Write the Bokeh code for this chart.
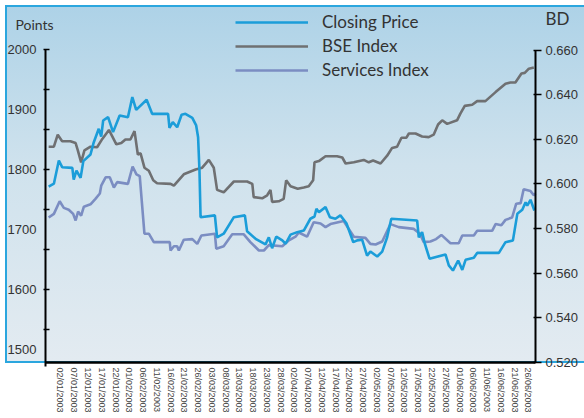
from bokeh.plotting import figure
from bokeh.models import (Range1d, LinearAxis, FixedTicker, NumeralTickFormatter,
                          Legend, LegendItem, Label)
from bokeh.embed import file_html
from bokeh.resources import INLINE

# ---- data -------------------------------------------------------------
date_labels = ["02/01/2003", "07/01/2003", "12/01/2003", "17/01/2003", "22/01/2003",
               "01/02/2003", "06/02/2003", "11/02/2003", "16/02/2003", "21/02/2003",
               "26/02/2003", "03/03/2003", "08/03/2003", "13/03/2003", "18/03/2003",
               "23/03/2003", "28/03/2003", "02/04/2003", "07/04/2003", "12/04/2003",
               "17/04/2003", "22/04/2003", "27/04/2003", "02/05/2003", "07/05/2003",
               "12/05/2003", "17/05/2003", "22/05/2003", "27/05/2003", "01/06/2003",
               "06/06/2003", "11/06/2003", "16/06/2003", "21/06/2003", "26/06/2003"]
label_step = 5  # days between labelled dates

# Closing Price (BD, right axis)
cp_day = [-4.3, -2.4, -0.6, 0.6, 4.3, 4.8, 5.8, 7.3, 8.3, 10.9, 12.1, 13.9, 14.8, 15.5, 17.3,
          19.1, 21.5, 24.5, 26.1, 27.5, 31.3, 33.3, 39.1, 39.6, 40.8, 42.4, 44.0, 45.4, 47.9,
          49.3, 50.0, 50.5, 50.9, 56.1, 56.9, 59.3, 63.0, 67.0, 67.8, 70.9, 74.5, 75.7, 76.9,
          78.4, 80.6, 81.8, 83.6, 86.0, 88.4, 90.8, 92.3, 93.0, 93.9, 96.3, 97.9, 99.9, 101.7,
          103.9, 106.4, 107.8, 109.6, 111.4, 112.6, 115.1, 116.9, 118.7, 120.2, 129.6, 130.2,
          131.4, 132.4, 134.1, 139.9, 141.1, 142.6, 144.5, 146.0, 147.2, 150.2, 151.4, 159.3,
          161.7, 164.4, 166.0, 167.8, 169.0, 169.6, 170.8, 172.2]
cp_val = [0.5988, 0.6001, 0.6105, 0.6075, 0.6072, 0.6019, 0.6060, 0.6027, 0.6102, 0.6132,
          0.6187, 0.6247, 0.6212, 0.6284, 0.6299, 0.6232, 0.6307, 0.6299, 0.6389, 0.6332,
          0.6377, 0.6314, 0.6314, 0.6251, 0.6277, 0.6254, 0.6310, 0.6314, 0.6296, 0.6262,
          0.6209, 0.6060, 0.5851, 0.5859, 0.5761, 0.5777, 0.5851, 0.5859, 0.5788, 0.5754,
          0.5729, 0.5761, 0.5712, 0.5764, 0.5747, 0.5732, 0.5773, 0.5784, 0.5791, 0.5844,
          0.5854, 0.5889, 0.5873, 0.5896, 0.5851, 0.5844, 0.5859, 0.5824, 0.5739, 0.5747,
          0.5750, 0.5679, 0.5697, 0.5675, 0.5697, 0.5761, 0.5844, 0.5836, 0.5761, 0.5784,
          0.5732, 0.5665, 0.5684, 0.5635, 0.5612, 0.5657, 0.5615, 0.5660, 0.5669, 0.5691,
          0.5691, 0.5739, 0.5747, 0.5866, 0.5884, 0.5918, 0.5903, 0.5929, 0.5881]

# BSE Index (points, left axis)
bse_day = [-4.3, -2.4, -1.0, 0.6, 3.6, 5.5, 6.3, 7.5, 8.7, 10.9, 13.3, 15.2, 17.6, 20.3, 22.1,
           23.6, 25.4, 26.9, 28.1, 29.1, 30.5, 32.1, 33.7, 35.1, 40.0, 41.2, 44.8, 49.1, 51.5,
           53.9, 55.7, 56.9, 59.3, 63.0, 67.8, 69.7, 70.2, 73.3, 75.1, 76.3, 76.9, 79.3, 81.1,
           82.0, 83.6, 86.2, 88.4, 90.2, 91.8, 92.3, 93.9, 96.3, 100.5, 102.4, 103.6, 106.6,
           110.2, 112.0, 113.6, 116.3, 118.7, 120.5, 122.3, 123.9, 125.7, 126.6, 129.0, 131.4,
           133.8, 135.6, 137.2, 138.7, 140.5, 144.1, 145.3, 146.9, 149.6, 151.4, 154.4, 158.1,
           161.7, 163.5, 165.3, 167.5, 168.7, 170.2, 172.0]
bse_val = [1838, 1838, 1858, 1847, 1847, 1844, 1832, 1812, 1832, 1838, 1837, 1851, 1866, 1842,
           1844, 1850, 1850, 1864, 1825, 1827, 1803, 1798, 1782, 1777, 1776, 1773, 1792, 1800,
           1803, 1816, 1803, 1766, 1762, 1780, 1780, 1776, 1754, 1752, 1757, 1766, 1746, 1747,
           1751, 1782, 1772, 1768, 1770, 1772, 1782, 1812, 1814, 1822, 1822, 1820, 1810, 1812,
           1816, 1812, 1815, 1810, 1823, 1836, 1838, 1853, 1853, 1860, 1860, 1855, 1854, 1858,
           1875, 1882, 1876, 1882, 1893, 1906, 1908, 1914, 1914, 1929, 1943, 1945, 1945, 1960,
           1961, 1968, 1970]

# Services Index (points, left axis)
svc_day = [-4.3, -2.4, -0.3, 1.2, 3.0, 4.6, 5.5, 6.4, 7.5, 8.5, 10.9, 12.7, 14.3, 14.8, 16.4,
           17.9, 19.4, 20.6, 24.5, 26.2, 27.6, 28.8, 30.5, 32.1, 33.9, 39.7, 40.0, 41.2, 42.4,
           43.0, 44.8, 47.9, 49.7, 51.2, 56.1, 56.6, 59.3, 62.4, 66.6, 69.0, 72.1, 73.9, 75.7,
           80.6, 83.0, 85.4, 86.6, 89.6, 92.0, 94.5, 96.3, 98.1, 102.9, 106.6, 110.8, 112.6,
           114.5, 116.9, 119.9, 122.9, 128.4, 130.6, 132.0, 134.4, 136.5, 138.4, 141.7, 144.7,
           146.0, 150.2, 151.4, 156.9, 158.1, 160.2, 161.7, 164.1, 165.6, 167.2, 168.3, 170.8,
           172.0, 172.6]
svc_val = [1720, 1726, 1747, 1736, 1733, 1726, 1715, 1730, 1723, 1738, 1742, 1751, 1760, 1773,
           1787, 1787, 1770, 1779, 1776, 1805, 1792, 1789, 1693, 1693, 1679, 1679, 1665, 1672,
           1672, 1665, 1683, 1684, 1676, 1690, 1693, 1668, 1672, 1692, 1692, 1679, 1665, 1665,
           1674, 1672, 1682, 1688, 1695, 1688, 1712, 1710, 1704, 1709, 1714, 1688, 1686, 1676,
           1675, 1680, 1709, 1704, 1701, 1693, 1679, 1680, 1684, 1691, 1677, 1677, 1690, 1690,
           1698, 1698, 1709, 1707, 1716, 1720, 1743, 1744, 1767, 1764, 1757, 1760]

points_ticks = [1500, 1600, 1700, 1800, 1900, 2000]
bd_ticks = [0.52, 0.54, 0.56, 0.58, 0.60, 0.62, 0.64, 0.66]

# axis extents (data units)
day_start, day_end = -5.45, 172.6
pts_start, pts_end = 1478.3, 2000
bd_start, bd_end = 0.520, 0.660

# ---- figure -----------------------------------------------------------
TICK_FONT = "Liberation Sans"
TEXT_FONT = "Lato"

W, H = 584, 418
p = figure(width=W, height=H, output_backend="svg", toolbar_location=None,
           x_range=Range1d(-21.80, 190.41), y_range=Range1d(1385.0, 2081.67),
           min_border=0)
p.border_fill_color = None
p.background_fill_color = None
p.outline_line_color = None
p.grid.visible = False
BLUE = "#2ba6de"
p.styles = {
    "background": (
        f"linear-gradient({BLUE},{BLUE}) 5px 5px/100% 2px no-repeat, "
        f"linear-gradient({BLUE},{BLUE}) 5px 5px/2px 358px no-repeat, "
        f"linear-gradient({BLUE},{BLUE}) 5px 361px/100% 2px no-repeat, "
        "linear-gradient(to bottom, #add2e7 0px, #cfe2ed 160px, #e3ebf1 357px) "
        "5px 5px/100% 357px no-repeat"
    )
}

p.extra_y_ranges = {"bd": Range1d(0.494912, 0.682176)}

# left axis (points)
ly = p.yaxis[0]
ly.fixed_location = day_start
ly.bounds = (1472, pts_end)
ly.ticker = FixedTicker(ticks=points_ticks,
                        minor_ticks=[pts_end - k * 200.0 / 3 for k in range(8)])
ly.formatter = NumeralTickFormatter(format="0")
ly.major_tick_line_color = None
ly.major_tick_in = 0
ly.major_tick_out = 0
ly.minor_tick_line_color = "black"
ly.minor_tick_line_width = 1.5
ly.minor_tick_in = 4
ly.minor_tick_out = 2
ly.major_label_standoff = 7
ly.axis_line_color = "black"
ly.axis_line_width = 2
ly.major_label_text_font = TICK_FONT
ly.major_label_text_font_size = "13px"
ly.major_label_text_color = "#333333"

# right axis (BD)
ry = LinearAxis(y_range_name="bd",
                ticker=FixedTicker(ticks=bd_ticks, minor_ticks=[]),
                formatter=NumeralTickFormatter(format="0.000"))
ry.fixed_location = day_end
ry.bounds = (bd_start, bd_end)
ry.major_tick_in = 2
ry.major_tick_out = 6
ry.major_tick_line_width = 1.5
ry.major_tick_line_color = "black"
ry.minor_tick_line_color = None
ry.major_label_standoff = 4
ry.axis_line_color = "black"
ry.axis_line_width = 2
ry.major_label_text_font = TICK_FONT
ry.major_label_text_font_size = "13px"
ry.major_label_text_color = "#333333"
p.add_layout(ry, "right")

# x axis (dates)
xa = p.xaxis[0]
xa.fixed_location = pts_start
xa.bounds = (day_start, day_end)
xticks = [i * label_step for i in range(len(date_labels))]
xa.ticker = FixedTicker(ticks=xticks, minor_ticks=[])
xa.major_label_overrides = {t: lab for t, lab in zip(xticks, date_labels)}
xa.major_label_orientation = "vertical"
xa.major_tick_line_color = None
xa.major_tick_in = 0
xa.major_tick_out = 0
xa.minor_tick_line_color = None
xa.major_label_standoff = 5
xa.axis_line_color = "black"
xa.axis_line_width = 2.5
xa.major_label_text_font = TICK_FONT
xa.major_label_text_font_size = "9px"
xa.major_label_text_color = "#444444"

# ---- series -----------------------------------------------------------
r_bse = p.line(bse_day, bse_val, line_color="#6f7072", line_width=2.6)
r_svc = p.line(svc_day, svc_val, line_color="#7b8dc2", line_width=2.6)
r_cp = p.line(cp_day, cp_val, y_range_name="bd", line_color="#1b9dd9", line_width=2.6)

legend = Legend(items=[LegendItem(label="Closing Price", renderers=[r_cp]),
                       LegendItem(label="BSE Index", renderers=[r_bse]),
                       LegendItem(label="Services Index", renderers=[r_svc])],
                location=(235, 338))
legend.glyph_width = 73
legend.glyph_height = 20
legend.label_height = 20
legend.spacing = 3
legend.padding = 0
legend.margin = 0
legend.label_standoff = 14
legend.border_line_color = None
legend.background_fill_alpha = 0
legend.label_text_font = TEXT_FONT
legend.label_text_font_size = "17px"
legend.label_text_color = "#333333"
p.add_layout(legend)

p.add_layout(Label(x=-16.35, y=2041.7, text="Points", text_baseline="middle",
                   text_align="left", text_font=TEXT_FONT, text_font_size="14px",
                   text_color="#333333"))
p.add_layout(Label(x=176.2, y=2051.7, text="BD", text_baseline="middle",
                   text_align="left", text_font=TEXT_FONT, text_font_size="17px",
                   text_color="#333333"))

open("out.html", "w").write(file_html(p, INLINE))
